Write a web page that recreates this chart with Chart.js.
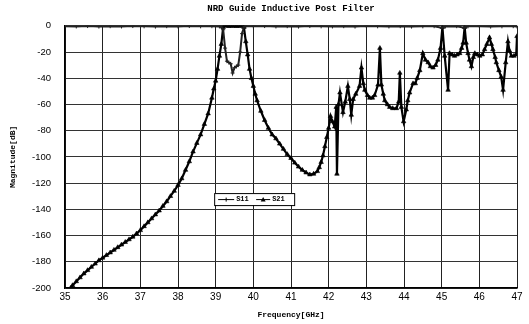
<!DOCTYPE html>
<html>
<head>
<meta charset="utf-8">
<script src="https://cdn.jsdelivr.net/npm/chart.js@4/dist/chart.umd.min.js"></script>
<style>
  html, body { margin: 0; padding: 0; background: #fff; }
  #wrap { width: 529px; height: 324px; }
</style>
</head>
<body>
<div id="wrap"><canvas id="myChart" width="529" height="324"></canvas></div>
<script>
// frequency points (GHz) and S21 magnitude (dB)
const freqS21 = [35.15, 35.2, 35.3, 35.4, 35.5, 35.6, 35.7, 35.8, 35.9, 36.0,
  36.1, 36.2, 36.3, 36.4, 36.5, 36.6, 36.7, 36.8, 36.9, 37.0,
  37.1, 37.2, 37.3, 37.4, 37.5, 37.6, 37.7, 37.8, 37.9, 38.0,
  38.1, 38.2, 38.3, 38.4, 38.5, 38.6, 38.7, 38.8, 38.9, 38.95,
  39.0, 39.05, 39.1, 39.15, 39.2, 39.25, 39.3, 39.35, 39.4, 39.45,
  39.5, 39.55, 39.6, 39.65, 39.7, 39.75, 39.8, 39.85, 39.9, 39.95,
  40.0, 40.05, 40.1, 40.2, 40.3, 40.4, 40.5, 40.6, 40.7, 40.8,
  40.9, 41.0, 41.1, 41.2, 41.3, 41.4, 41.5, 41.6, 41.7, 41.75,
  41.8, 41.85, 41.9, 41.95, 42.0, 42.05, 42.1, 42.16, 42.2, 42.22,
  42.26, 42.3, 42.38, 42.44, 42.51, 42.56, 42.6, 42.65, 42.72, 42.82,
  42.87, 42.92, 42.96, 43.03, 43.09, 43.16, 43.22, 43.31, 43.36, 43.4,
  43.45, 43.49, 43.56, 43.62, 43.7, 43.8, 43.86, 43.89, 43.93, 43.99,
  44.06, 44.1, 44.15, 44.24, 44.3, 44.35, 44.42, 44.5, 44.57, 44.64,
  44.7, 44.77, 44.84, 44.9, 44.97, 45.02, 45.08, 45.17, 45.21, 45.28,
  45.34, 45.41, 45.48, 45.53, 45.57, 45.61, 45.65, 45.7, 45.74, 45.79,
  45.84, 45.88, 45.95, 46.01, 46.08, 46.14, 46.2, 46.27, 46.32, 46.36,
  46.42, 46.45, 46.52, 46.58, 46.63, 46.7, 46.76, 46.8, 46.85, 46.92,
  46.98, 47.0];
const s21 = [-200, -198, -195, -192, -189, -186.5, -184, -181.5, -179, -177,
  -175, -173, -171, -169, -167, -165, -163, -161, -158.5, -156,
  -153, -150, -147, -144, -141, -137.5, -134, -130, -126, -121.5,
  -116.5, -110, -103.5, -96, -89.5, -83, -75, -67, -55, -48,
  -42, -33, -23, -14, -1, 0, 0, -0.3, 0, -0.2,
  0, -0.3, 0, -0.2, 0, -1, -12, -22, -33, -40,
  -46, -52, -57, -65, -72, -78, -83, -86, -90, -94,
  -98, -101, -104.5, -107.5, -110, -112, -113.5, -113, -111, -108,
  -104, -99, -92, -85, -78, -69, -73, -77, -62, -113,
  -60, -51, -66, -58, -46, -56, -68, -56, -52, -46,
  -32, -44, -49, -53, -55, -55, -53, -45, -17, -45,
  -52, -57, -60, -62, -63, -63, -58, -36, -62, -73,
  -64, -57, -51, -44, -44, -40, -34, -21, -26, -28,
  -31, -32, -30, -26, -17, -1, -23, -49, -21, -22,
  -23, -22, -21, -17, -13, -1, -13, -21, -26, -31,
  -24, -21, -22, -23, -22, -18, -14, -9, -14, -18,
  -24, -28, -34, -39, -49, -28, -12, -19, -23, -23,
  -22, -8];

// S11 magnitude (dB): near 0 except the dip inside the passband
const freqS11 = [35.0, 35.3, 35.6, 35.9, 36.2, 36.5, 36.8, 37.1, 37.4, 37.7,
  38.0, 38.3, 38.6, 38.9, 39.1, 39.15, 39.2, 39.25, 39.3, 39.35,
  39.4, 39.45, 39.5, 39.55, 39.6, 39.65, 39.7, 39.75, 39.8, 40.0,
  40.3, 40.6, 40.9, 41.2, 41.5, 41.8, 42.1, 42.4, 42.7, 43.0,
  43.3, 43.6, 43.9, 44.2, 44.5, 44.8, 45.0, 45.1, 45.4, 45.6,
  45.7, 46.0, 46.3, 46.6, 46.9, 47.0];
const s11 = [-0.3, -0.5, -0.2, -0.6, -0.3, -0.5, -0.2, -0.4, -0.6, -0.3,
  -0.5, -0.2, -0.4, -0.3, -0.5, -1, -3, -17, -27, -28,
  -29, -36, -32, -31, -30, -20, -6, -1, -0.3, -0.4,
  -0.2, -0.5, -0.3, -0.6, -0.2, -0.4, -0.5, -0.3, -0.6, -0.2,
  -0.4, -0.5, -0.3, -0.6, -0.4, -0.3, -1.5, -0.5, -0.3, -1.5,
  -0.4, -0.3, -0.6, -0.4, -0.3, -0.5];

const yTicks = [0, -20, -40, -60, -80, -100, -120, -140, -160, -180, -200];
const seriesNames = ['S11', 'S21'];

const ctx = document.getElementById('myChart');
const monoFont = "'Liberation Mono', 'DejaVu Sans Mono', monospace";
const sansFont = "'Liberation Sans', Arial, sans-serif";

// little boxed legend sitting inside the plot, like the original
const insideLegend = {
  id: 'insideLegend',
  afterDatasetsDraw(chart) {
    const a = chart.chartArea;
    const c = chart.ctx;
    const x0 = a.left + (a.right - a.left) * 0.33;
    const y0 = a.top + (a.bottom - a.top) * 0.638;
    const w = 80, h = 12;
    c.save();
    c.fillStyle = '#fff';
    c.fillRect(x0, y0, w, h);
    c.strokeStyle = '#000';
    c.lineWidth = 1;
    c.strokeRect(x0 + 0.5, y0 + 0.5, w, h);
    c.font = 'bold 7px ' + monoFont;
    c.fillStyle = '#000';
    c.textBaseline = 'middle';
    const ym = y0 + h / 2 + 0.5;
    // S11
    c.beginPath(); c.moveTo(x0 + 4, ym); c.lineTo(x0 + 20, ym); c.stroke();
    c.beginPath(); c.moveTo(x0 + 12, ym - 2); c.lineTo(x0 + 12, ym + 2); c.stroke();
    c.fillText(seriesNames[0], x0 + 22, ym);
    // S21
    c.beginPath(); c.moveTo(x0 + 42, ym); c.lineTo(x0 + 56, ym); c.stroke();
    c.beginPath(); c.moveTo(x0 + 49, ym - 2.5); c.lineTo(x0 + 51.5, ym + 2); c.lineTo(x0 + 46.5, ym + 2); c.closePath(); c.fill();
    c.fillText(seriesNames[1], x0 + 58, ym);
    c.restore();
  }
};

const chart = new Chart(ctx, {
  type: 'line',
  data: {
    datasets: [{
      label: seriesNames[0],
      data: freqS11.map((f, i) => ({ x: f, y: s11[i] })),
      borderColor: '#222',
      backgroundColor: '#222',
      borderWidth: 2,
      pointStyle: 'cross',
      pointRadius: 2,
      pointBorderWidth: 1,
      tension: 0
    }, {
      label: seriesNames[1],
      data: freqS21.map((f, i) => ({ x: f, y: s21[i] })),
      borderColor: '#000',
      backgroundColor: '#000',
      borderWidth: 2.2,
      pointStyle: 'triangle',
      pointRadius: 2.6,
      pointBorderWidth: 0.6,
      tension: 0
    }]
  },
  options: {
    responsive: false,
    animation: false,
    layout: { padding: { left: 0, right: 12, top: 0, bottom: 0 } },
    plugins: {
      legend: { display: false },
      tooltip: { enabled: false },
      title: {
        display: true,
        fullSize: false,
        text: 'NRD Guide Inductive Post Filter',
        color: '#000',
        font: { family: monoFont, size: 9, weight: 'bold', lineHeight: 1.2 },
        padding: { top: 3, bottom: 12 }
      }
    },
    scales: {
      x: {
        type: 'linear',
        min: 35,
        max: 47,
        ticks: { stepSize: 1, color: '#000', font: { family: sansFont, size: 10 }, padding: 3, maxRotation: 0 },
        grid: { color: '#222', lineWidth: 1, drawTicks: false },
        border: { color: '#000', width: 1.5 },
        title: {
          display: true,
          text: 'Frequency[GHz]',
          color: '#000',
          font: { family: monoFont, size: 8, weight: 'bold' },
          padding: { top: 2, bottom: 4 }
        },
        afterFit(scale) { scale.height = 36; }
      },
      y: {
        min: -200,
        max: 0,
        afterBuildTicks(scale) { scale.ticks = yTicks.map(v => ({ value: v })); },
        ticks: { color: '#000', font: { family: sansFont, size: 9.5 }, padding: 14 },
        grid: { color: '#333', lineWidth: 1, drawTicks: false },
        border: { color: '#000', width: 1.5 },
        title: {
          display: true,
          text: 'Magnitude[dB]',
          color: '#000',
          font: { family: monoFont, size: 8, weight: 'bold' },
          padding: { top: 8, bottom: 0 }
        },
        afterFit(scale) { scale.width = 65; }
      }
    }
  },
  plugins: [insideLegend]
});
</script>
</body>
</html>
